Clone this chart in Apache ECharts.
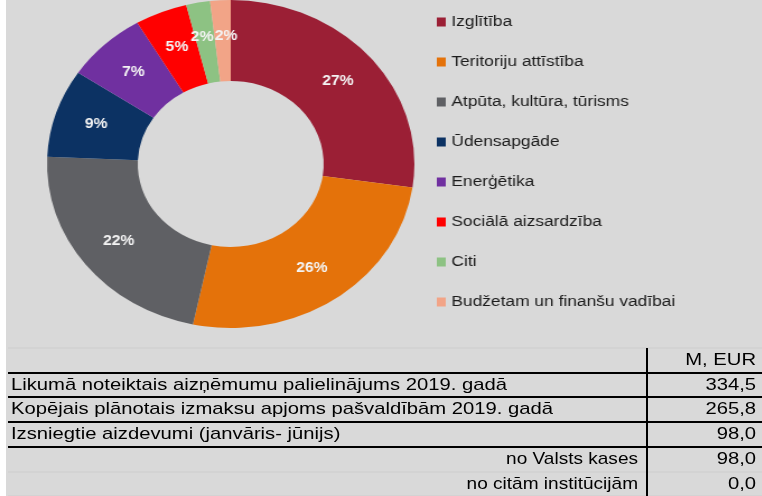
<!DOCTYPE html>
<html lang="lv">
<head>
<meta charset="UTF-8">
<script src="https://cdn.jsdelivr.net/npm/echarts@6/dist/echarts.min.js"></script>
<title>Aizņēmumi pašvaldībām</title>
<style>
  html, body { margin: 0; padding: 0; background: #fff; }
  #wrap { position: relative; width: 762px; height: 496px; }
  #tbl { position: absolute; left: 0; top: 0; width: 762px; height: 496px; }
  /* the donut in the source image is stretched sideways */
  #pie { position: absolute; left: 0; top: 0; width: 680px; height: 345px;
         transform: scaleX(1.12); transform-origin: 0 0; }
</style>
</head>
<body>
<div id="wrap">
  <div id="tbl"></div>
  <div id="pie"></div>
</div>
<script type="text/javascript">
// nozares un to daļa (%)
var categories = ['Izglītība', 'Teritoriju attīstība', 'Atpūta, kultūra, tūrisms', 'Ūdensapgāde',
                  'Enerģētika', 'Sociālā aizsardzība', 'Citi', 'Budžetam un finanšu vadībai'];
var shares = [27.3, 26.0, 22.4, 8.7, 7.1, 4.6, 2.1, 1.8];
var colors = ['#9b1f35', '#e4720a', '#5f6064', '#0c3263', '#7030a0', '#ff0000', '#8dc283', '#f2a487'];

// tabula
var tableHeader = 'M, EUR';
var rowLabels = ['Likumā noteiktais aizņēmumu palielinājums 2019. gadā',
                 'Kopējais plānotais izmaksu apjoms pašvaldībām 2019. gadā',
                 'Izsniegtie aizdevumi (janvāris- jūnijs)',
                 'no Valsts kases',
                 'no citām institūcijām'];
var rowValues = ['334,5', '265,8', '98,0', '98,0', '0,0'];
var rowIndent = [false, false, false, true, true];

// ---- donut ----
var pieChart = echarts.init(document.getElementById('pie'));
// the two thin top slices push their labels apart a little
var labelNudge = { 'Citi': [-3, -2], 'Budžetam un finanšu vadībai': [3, -2] };
var pieData = [];
for (var i = 0; i < categories.length; i++) {
    var d = { name: categories[i], value: shares[i], itemStyle: { color: colors[i] } };
    if (labelNudge[categories[i]]) d.label = { offset: labelNudge[categories[i]] };
    pieData.push(d);
}
pieChart.setOption({
    animation: false,
    legend: {
        orient: 'vertical',
        left: 390,
        top: 14,
        padding: 0,
        itemWidth: 8,
        itemHeight: 9,
        itemGap: 24,
        icon: 'rect',
        textStyle: { fontFamily: 'Liberation Sans', fontSize: 15.5, lineHeight: 16, color: '#1c1c1c' },
        data: categories
    },
    series: [{
        type: 'pie',
        center: [206, 164],
        radius: [83, 164],
        startAngle: 90,
        clockwise: true,
        avoidLabelOverlap: false,
        labelLayout: { hideOverlap: false },
        label: {
            position: 'inside',
            color: '#f4f4f4',
            fontFamily: 'Liberation Sans',
            fontWeight: 'bold',
            fontSize: 14,
            formatter: function (p) { return Math.round(p.value) + '%'; }
        },
        labelLine: { show: false },
        data: pieData
    }]
});

// ---- tabula ----
var tblChart = echarts.init(document.getElementById('tbl'));
var rowTop = 348, rowH = 24.7, colX = 647, right = 756;
var els = [];
els.push({ type: 'rect', shape: { x: 0, y: 0, width: 6, height: 496 }, style: { fill: '#fff' } });
for (var r = 0; r <= rowLabels.length + 1; r++) {
    var y = Math.round(rowTop + r * rowH);
    var strong = r >= 1 && r <= 4;
    els.push({
        type: 'line',
        shape: { x1: 8, y1: y, x2: 762, y2: y },
        style: { stroke: strong ? '#000' : '#cdcdcd', lineWidth: strong ? 2 : 1 }
    });
}
els.push({ type: 'line', shape: { x1: colX, y1: rowTop, x2: colX, y2: 496 },
           style: { stroke: '#000', lineWidth: 2 } });
// Excel text in the source is wider than it is tall
var txt = { fontFamily: 'Liberation Sans', fontSize: 17, fill: '#000', verticalAlign: 'middle' };
var sx = 1.19;
els.push({ type: 'text', x: right, y: rowTop + rowH / 2, scaleX: sx,
           style: Object.assign({ text: tableHeader, align: 'right' }, txt) });
for (var k = 0; k < rowLabels.length; k++) {
    var cy = rowTop + (k + 1.5) * rowH;
    els.push({ type: 'text', x: rowIndent[k] ? colX - 9 : 11, y: cy, scaleX: rowIndent[k] ? 1.12 : sx,
               style: Object.assign({ text: rowLabels[k], align: rowIndent[k] ? 'right' : 'left' }, txt) });
    els.push({ type: 'text', x: right, y: cy, scaleX: sx,
               style: Object.assign({ text: rowValues[k], align: 'right' }, txt) });
}
tblChart.setOption({
    animation: false,
    backgroundColor: '#d9d9d9',
    graphic: els
});
</script>
</body>
</html>
